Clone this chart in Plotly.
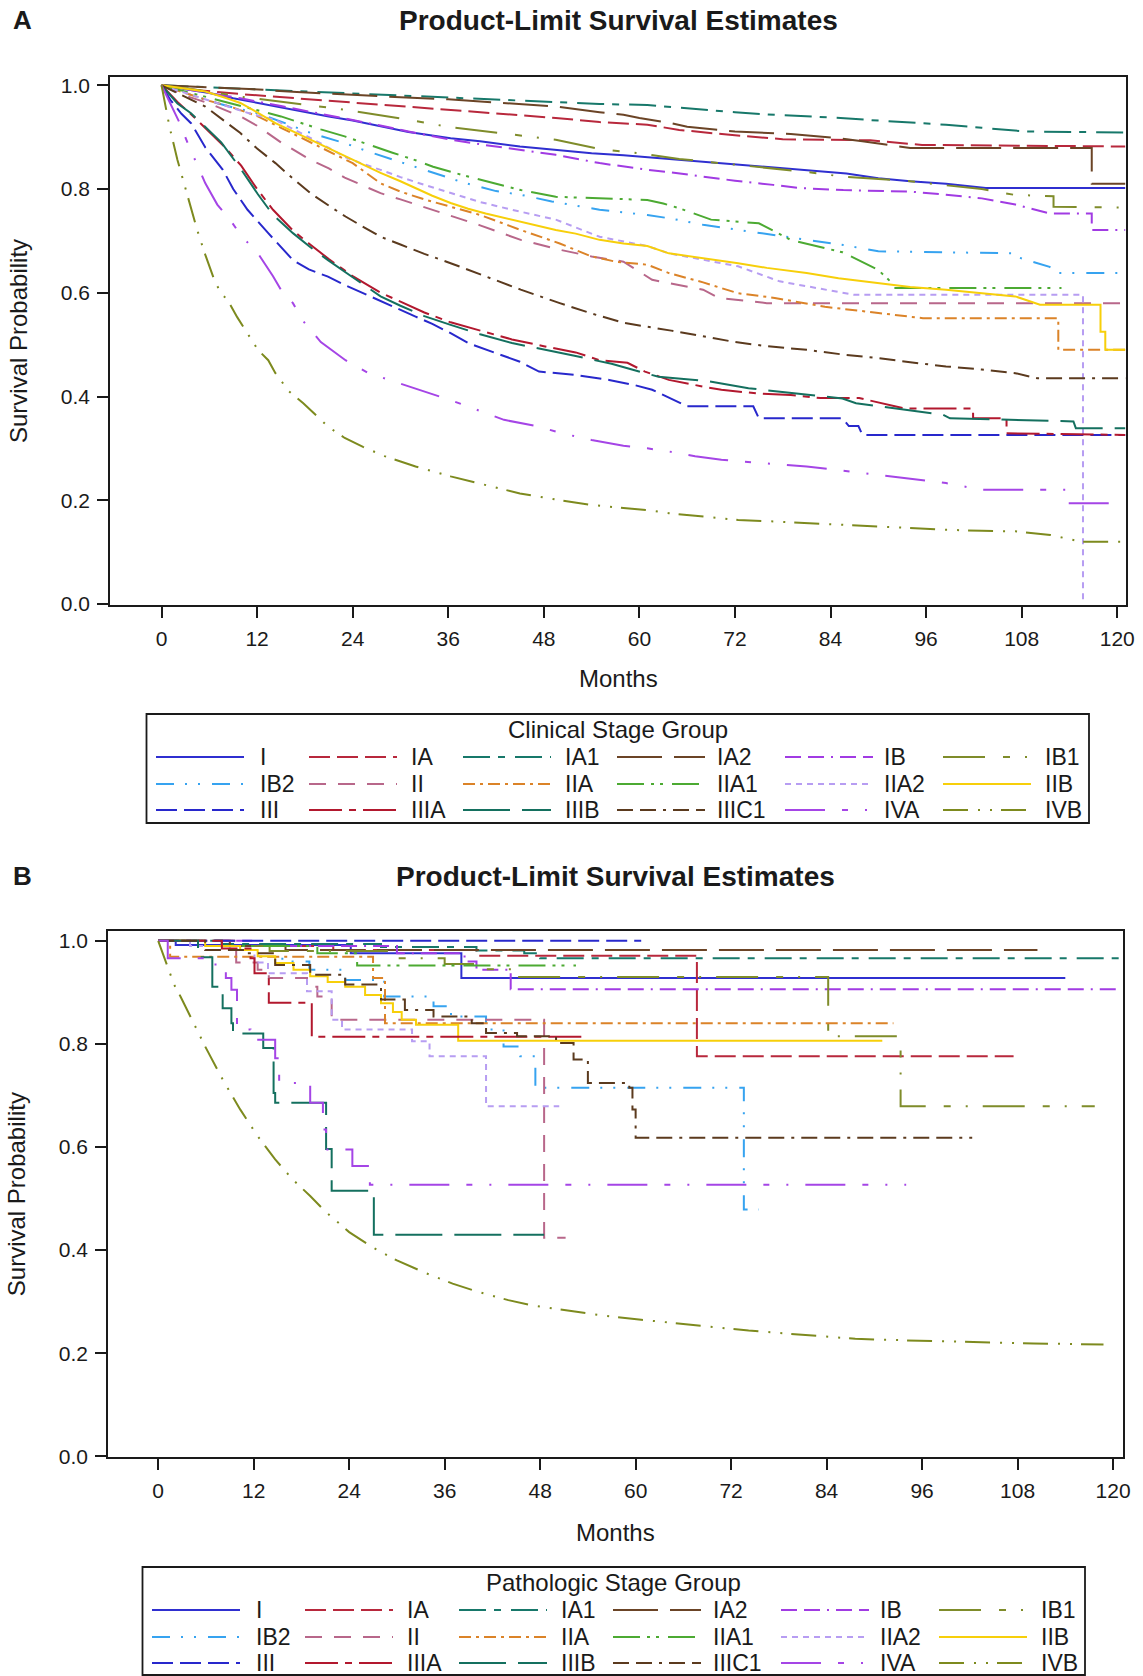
import plotly.graph_objects as go

FIG_W, FIG_H = 1143, 1676
FONT = "Liberation Sans, Arial, sans-serif"
INK = "#1a1a1a"

# ---- stage groups, line colours and dash patterns (legend order, row-major) ----
STAGES = ["I", "IA", "IA1", "IA2", "IB", "IB1",
          "IB2", "II", "IIA", "IIA1", "IIA2", "IIB",
          "III", "IIIA", "IIIB", "IIIC1", "IVA", "IVB"]

STAGE_COLORS = ["#2F2FD0", "#B8283C", "#17786A", "#6B4426", "#A13BE3", "#7F8C2A",
                "#36A3F0", "#B8678A", "#DB8328", "#4CAA32", "#B79DF2", "#F7CF0A",
                "#2828CC", "#B2182E", "#14705F", "#5B3A1E", "#A545E6", "#7D8A1E"]

STAGE_DASHES = ["solid", "21px,7px", "27px,8px,7px,10px", "45px,12px",
                "16px,7px,16px,7px,2px,7px", "42px,18px,7px,15px,2px,15px",
                "18px,11px,2px,11px,2px,12px", "17px,12px", "12px,5px,3px,5px",
                "27px,7px,3px,6px,3px,9px", "6px,5px", "solid",
                "21px,7px", "33px,7px,7px,7px", "47px,12px",
                "16px,7px,16px,7px,3px,7px", "40px,17px,6px,17px,2px,17px",
                "25px,10px,2px,10px,2px,9px"]

MONTH_TICKS = list(range(0, 121, 12))
SURV_TICKS = [0.0, 0.2, 0.4, 0.6, 0.8, 1.0]

# ---- A: clinical stage group, (month, survival probability) ----
A_I = [(0, 1.0), (3, 0.993), (6, 0.985), (9, 0.975), (12, 0.966), (14.3, 0.959), (18, 0.948),
       (21, 0.94), (24, 0.932), (27.5, 0.921), (31, 0.91), (36.3, 0.898), (40, 0.892), (45, 0.882),
       (50, 0.875), (54, 0.869), (58, 0.865), (62, 0.86), (68, 0.853), (74, 0.845), (81, 0.837),
       (86, 0.83), (90, 0.821), (94, 0.815), (98.5, 0.81), (103.5, 0.802), (121, 0.802)]
A_IA = [(0, 1.0), (5, 0.99), (10, 0.983), (16, 0.976), (23, 0.969), (30, 0.961), (36, 0.953),
        (43, 0.945), (49.5, 0.937), (55, 0.929), (61, 0.924), (65, 0.914), (71, 0.905),
        (78, 0.896), (89, 0.894), (95.5, 0.885), (121, 0.882)]
A_IA1 = [(0, 1.0), (6, 0.996), (12, 0.992), (18, 0.988), (23, 0.985), (30, 0.98), (36, 0.976),
         (42, 0.972), (48, 0.968), (55, 0.964), (61, 0.962), (66, 0.955), (72, 0.948),
         (77, 0.943), (84, 0.938), (90, 0.932), (94, 0.928), (98.5, 0.924), (103, 0.918),
         (108.5, 0.911), (121, 0.909)]
A_IA2 = [(0, 1.0), (7, 0.995), (11, 0.993), (17, 0.987), (23, 0.982), (30, 0.977), (36, 0.973),
         (43, 0.966), (49.5, 0.959), (55, 0.948), (58, 0.943), (60, 0.937), (64, 0.927),
         (66, 0.92), (70, 0.914), (72, 0.911), (79, 0.906), (85, 0.898), (88, 0.892),
         (94, 0.879), (116.8, 0.879), (116.8, 0.81), (121, 0.81)]
A_IB = [(0, 1.0), (4, 0.99), (9.9, 0.975), (15, 0.96), (19, 0.948), (23.1, 0.937), (27, 0.924),
        (31, 0.911), (36.3, 0.895), (41, 0.884), (45, 0.875), (49.5, 0.866), (55, 0.85),
        (61, 0.837), (64, 0.832), (68, 0.824), (72, 0.816), (76.8, 0.808), (80, 0.802),
        (85.6, 0.798), (94, 0.795), (98.5, 0.789), (103, 0.782), (107.2, 0.77), (111.5, 0.753),
        (116.8, 0.753), (116.8, 0.721), (121, 0.721)]
A_IB1 = [(0, 1.0), (5, 0.99), (10, 0.978), (16, 0.966), (23, 0.953), (30, 0.936), (36, 0.92),
         (43, 0.907), (49.5, 0.895), (55, 0.877), (60, 0.869), (65, 0.858), (71, 0.849),
         (77, 0.84), (81, 0.833), (85.5, 0.824), (90, 0.82), (94, 0.815), (98, 0.808),
         (103, 0.8), (107, 0.789), (112, 0.786), (112, 0.766), (121, 0.764)]
A_IB2 = [(0, 1.0), (3, 0.985), (6, 0.97), (9, 0.957), (12.1, 0.946), (15, 0.93), (18, 0.912),
         (20, 0.902), (23.1, 0.888), (26, 0.872), (29, 0.857), (32, 0.842), (34.1, 0.831),
         (38, 0.812), (42, 0.796), (45.1, 0.789), (49, 0.776), (55, 0.76), (61, 0.75),
         (64, 0.743), (68, 0.731), (72, 0.722), (76.8, 0.712), (81, 0.702), (85.6, 0.692),
         (90, 0.68), (107, 0.676), (107.2, 0.67), (111.5, 0.65), (112.4, 0.638), (121, 0.638)]
A_II = [(0, 1.0), (3, 0.98), (6, 0.965), (9.9, 0.94), (12, 0.922), (15, 0.89), (18.7, 0.856),
        (21, 0.84), (23, 0.822), (27.5, 0.792), (30, 0.78), (33, 0.765), (36.3, 0.747),
        (40, 0.73), (45.1, 0.702), (50, 0.683), (54, 0.67), (58, 0.66), (61.6, 0.625),
        (68, 0.606), (70, 0.59), (76, 0.58), (121, 0.58)]
A_IIA = [(0, 1.0), (3, 0.985), (6, 0.97), (9, 0.957), (12.1, 0.94), (15, 0.918), (18, 0.895),
         (21, 0.872), (24, 0.85), (27.5, 0.811), (30, 0.795), (33, 0.78), (36.3, 0.766),
         (40, 0.75), (45.1, 0.721), (50, 0.695), (54, 0.67), (57, 0.66), (61, 0.654),
         (63.7, 0.638), (68, 0.62), (72.4, 0.599), (77, 0.59), (83.3, 0.573), (90, 0.561),
         (95.6, 0.551), (112.6, 0.551), (112.6, 0.49), (121, 0.49)]
A_IIA1 = [(0, 1.0), (3, 0.988), (6, 0.977), (9, 0.965), (12.1, 0.953), (15, 0.94), (18, 0.925),
          (20, 0.915), (23.1, 0.901), (26, 0.885), (29, 0.87), (32, 0.855), (34.1, 0.843),
          (38, 0.826), (42, 0.81), (45.1, 0.798), (49.5, 0.785), (55, 0.782), (61, 0.779),
          (63, 0.772), (65, 0.763), (69, 0.741), (75, 0.734), (79, 0.702), (85.5, 0.678),
          (90, 0.644), (91.5, 0.622), (92, 0.609), (113, 0.609)]
A_IIA2 = [(0, 1.0), (3, 0.985), (6, 0.97), (9, 0.956), (11, 0.946), (14.3, 0.933), (17, 0.912),
          (20, 0.888), (23, 0.862), (25, 0.85), (27.5, 0.837), (30, 0.823), (33, 0.808),
          (36.3, 0.792), (40, 0.775), (44, 0.76), (49.5, 0.741), (55, 0.708), (61, 0.69),
          (63.7, 0.676), (68, 0.664), (72.4, 0.651), (77.6, 0.622), (87, 0.596),
          (115.7, 0.596), (115.7, 0.0)]
A_IIB = [(0, 1.0), (2, 0.996), (4, 0.992), (5.5, 0.988), (8, 0.976), (9.9, 0.966), (12, 0.948),
         (14.3, 0.927), (16.5, 0.911), (18.7, 0.895), (21, 0.878), (23.1, 0.862), (25, 0.848),
         (27.5, 0.831), (30, 0.815), (31.9, 0.802), (34, 0.787), (36.3, 0.773), (38.5, 0.762),
         (40.7, 0.753), (44, 0.741), (47, 0.73), (49.5, 0.721), (52, 0.714), (55, 0.702),
         (58, 0.695), (61, 0.69), (63.7, 0.676), (68, 0.667), (72.4, 0.657), (76, 0.648),
         (81, 0.638), (85, 0.628), (90, 0.618), (94, 0.611), (98.5, 0.606), (103, 0.6),
         (107.2, 0.593), (110.3, 0.577), (117.9, 0.577), (117.9, 0.525), (118.5, 0.525),
         (118.5, 0.49), (121, 0.49)]
A_III = [(0, 1.0), (1.1, 0.972), (2.5, 0.945), (3.7, 0.927), (5.5, 0.88), (7.7, 0.837),
         (9, 0.8), (10.8, 0.76), (13.4, 0.715), (16.5, 0.663), (18.5, 0.645), (20.9, 0.631),
         (23, 0.615), (25.3, 0.599), (28, 0.58), (31.9, 0.554), (34, 0.54), (36.3, 0.522),
         (38.5, 0.503), (42, 0.483), (45, 0.467), (47.4, 0.448), (51.8, 0.442), (56.2, 0.432),
         (59.4, 0.422), (61.6, 0.413), (64.3, 0.393), (66, 0.381), (74.3, 0.381), (75, 0.358),
         (85.5, 0.358), (86.3, 0.343), (87.5, 0.343), (88, 0.326), (121, 0.326)]
A_IIIA = [(0, 1.0), (2, 0.968), (4, 0.94), (6, 0.91), (8, 0.88), (10, 0.845), (12, 0.8),
          (14, 0.76), (16.5, 0.72), (18.5, 0.695), (21, 0.665), (24, 0.632), (27.5, 0.6),
          (30, 0.583), (33, 0.562), (36.3, 0.543), (40, 0.527), (44, 0.51), (48, 0.497),
          (52, 0.485), (55, 0.47), (58.5, 0.465), (60.7, 0.448), (63.7, 0.432), (68, 0.419),
          (70.3, 0.413), (74.7, 0.406), (79, 0.403), (82.7, 0.397), (87.6, 0.397),
          (93.3, 0.377), (101.9, 0.377), (101.9, 0.358), (106.1, 0.358), (106.1, 0.329),
          (121, 0.326)]
A_IIIB = [(0, 1.0), (2, 0.965), (3.7, 0.946), (5.5, 0.92), (7.5, 0.89), (9.9, 0.84),
          (12.1, 0.79), (14, 0.75), (16.5, 0.715), (18.5, 0.69), (20.9, 0.663), (24, 0.63),
          (27.5, 0.593), (30, 0.575), (33, 0.555), (36.3, 0.538), (40, 0.52), (44, 0.503),
          (47.4, 0.493), (52, 0.478), (56.5, 0.463), (60.7, 0.445), (62.4, 0.438), (67, 0.432),
          (68.8, 0.429), (73.7, 0.416), (79.4, 0.406), (85.5, 0.396), (87.2, 0.387), (92, 0.377),
          (98.1, 0.365), (99, 0.358), (106.6, 0.355), (114.5, 0.352), (114.8, 0.339),
          (121, 0.339)]
A_IIIC1 = [(0, 1.0), (2, 0.985), (4, 0.97), (5.5, 0.959), (8, 0.93), (9.9, 0.908), (12, 0.878),
           (14.3, 0.85), (16.5, 0.82), (18.7, 0.792), (21, 0.768), (23.1, 0.747), (25, 0.73),
           (27.5, 0.708), (30, 0.693), (33, 0.675), (36.3, 0.657), (40, 0.635), (45.1, 0.606),
           (50, 0.58), (54, 0.56), (58, 0.542), (61, 0.535), (64, 0.527), (68, 0.516),
           (72, 0.505), (76, 0.497), (81, 0.49), (86, 0.48), (90, 0.474), (94, 0.466),
           (98.5, 0.458), (103, 0.452), (107.2, 0.445), (110, 0.435), (121, 0.435)]
A_IVA = [(0, 1.0), (1.1, 0.966), (2.2, 0.93), (3.3, 0.888), (4.4, 0.85), (5.5, 0.811), (7, 0.77),
         (8.6, 0.741), (10, 0.71), (12.1, 0.676), (14, 0.632), (15.2, 0.6), (16.5, 0.58),
         (17.8, 0.545), (20, 0.505), (23.1, 0.47), (26, 0.445), (29.7, 0.426), (33, 0.41),
         (36.3, 0.393), (40, 0.372), (43, 0.355), (47.4, 0.342), (50, 0.33), (54, 0.316),
         (58, 0.305), (61, 0.3), (63.7, 0.294), (67, 0.285), (70.3, 0.278), (75, 0.272),
         (81, 0.265), (85, 0.258), (90, 0.249), (94, 0.242), (98.5, 0.233), (103, 0.22),
         (113.5, 0.22), (113.5, 0.194), (121, 0.194)]
A_IVB = [(0, 1.0), (0.5, 0.96), (1, 0.92), (2, 0.856), (3, 0.8), (3.7, 0.76), (4.5, 0.72),
         (5.5, 0.673), (6.5, 0.63), (7.4, 0.6), (8.3, 0.586), (9.5, 0.553), (11.2, 0.51),
         (12.1, 0.49), (13.4, 0.47), (14.3, 0.445), (16, 0.41), (17.8, 0.387), (20.9, 0.342),
         (23, 0.32), (25.3, 0.303), (28, 0.285), (31.9, 0.265), (36.3, 0.246), (40, 0.232),
         (45, 0.213), (50, 0.2), (54, 0.191), (58, 0.185), (61, 0.181), (63.7, 0.175),
         (68, 0.168), (72.4, 0.162), (77, 0.159), (81, 0.156), (86, 0.152), (90, 0.149),
         (94, 0.146), (98.5, 0.143), (103, 0.141), (107.2, 0.14), (111.6, 0.133),
         (115.5, 0.12), (121, 0.12)]

# ---- B: pathologic stage group, (month, survival probability) ----
B_I = [(0, 1.0), (2.2, 0.992), (24.2, 0.976), (38.1, 0.928), (114, 0.928)]
B_IA = [(0, 1.0), (10, 0.99), (22, 0.982), (40, 0.971), (67.7, 0.776), (107.5, 0.776)]
B_IA1 = [(0, 1.0), (8, 0.994), (28, 0.988), (40, 0.981), (46, 0.976), (48, 0.966), (120.9, 0.966)]
B_IA2 = [(0, 1.0), (9, 0.99), (16, 0.982), (110.5, 0.982)]
B_IB = [(0, 1.0), (12, 0.99), (30, 0.976), (38.5, 0.96), (40, 0.944), (44.3, 0.906), (120.9, 0.906)]
B_IB1 = [(0, 1.0), (6, 0.99), (14, 0.98), (29, 0.966), (36, 0.955), (41, 0.945), (45, 0.93),
         (84.2, 0.815), (93.3, 0.679), (117.7, 0.679)]
B_IB2 = [(0, 1.0), (8, 0.99), (15.6, 0.96), (19, 0.944), (23.5, 0.924), (28.4, 0.892),
         (34.6, 0.873), (36.8, 0.853), (41.2, 0.828), (43.4, 0.795), (45.5, 0.776),
         (47.4, 0.715), (73.6, 0.479), (75.5, 0.479)]
B_II = [(0, 1.0), (9.8, 0.958), (12.5, 0.944), (13.9, 0.928), (18.7, 0.911), (20, 0.892),
        (21.8, 0.847), (48.5, 0.424), (51.2, 0.424)]
B_IIA = [(0, 1.0), (1.5, 0.969), (27, 0.928), (28.5, 0.84), (92.4, 0.84)]
B_IIA1 = [(0, 1.0), (8, 0.99), (20, 0.976), (25, 0.952), (52.5, 0.952)]
B_IIA2 = [(0, 1.0), (4, 0.99), (9, 0.982), (12.1, 0.958), (13.8, 0.937), (18.7, 0.902),
          (21.8, 0.847), (23.1, 0.828), (31.9, 0.805), (34.1, 0.776), (41.2, 0.679), (50.4, 0.679)]
B_IIB = [(0, 1.0), (5.9, 0.99), (10.3, 0.982), (12.5, 0.97), (14.7, 0.957), (17, 0.944),
         (19.1, 0.931), (21.3, 0.92), (23.5, 0.911), (26, 0.895), (28, 0.879), (29.5, 0.862),
         (30.6, 0.847), (32.4, 0.837), (37.7, 0.806), (91, 0.806)]
B_III = [(0, 1.0), (60.7, 1.0)]
B_IIIA = [(0, 1.0), (8, 0.985), (11.6, 0.966), (12.1, 0.937), (13.9, 0.88), (19.3, 0.814), (53.7, 0.814)]
B_IIIB = [(0, 1.0), (5, 0.968), (6.8, 0.911), (8.1, 0.869), (9.2, 0.84), (9.4, 0.82), (13.2, 0.792),
          (14.5, 0.705), (14.7, 0.686), (21.1, 0.596), (21.8, 0.515), (27.1, 0.43), (48.5, 0.43)]
B_IIIC1 = [(0, 1.0), (5.9, 0.982), (11.2, 0.976), (14.7, 0.953), (19.1, 0.934), (23.5, 0.915),
           (28, 0.886), (31, 0.866), (34.6, 0.853), (39.4, 0.84), (41.2, 0.821), (45.1, 0.815),
           (50, 0.802), (52.2, 0.77), (54, 0.724), (59.2, 0.715), (59.6, 0.673), (60, 0.618),
           (102.3, 0.618)]
B_IVA = [(0, 1.0), (1.2, 0.966), (7.2, 0.947), (8.5, 0.928), (9.2, 0.905), (9.9, 0.828),
         (11.6, 0.808), (14.7, 0.772), (15.2, 0.724), (19.1, 0.686), (20.7, 0.634), (21.1, 0.595),
         (24.4, 0.563), (26.6, 0.527), (94, 0.527)]
B_IVB = [(0, 1.0), (1, 0.957), (2, 0.915), (2.8, 0.892), (4.2, 0.847), (5.9, 0.795), (8.1, 0.731),
         (10.3, 0.673), (12.5, 0.621), (14.7, 0.576), (16.9, 0.537), (19.1, 0.505), (21, 0.475),
         (24, 0.435), (27, 0.405), (30, 0.38), (33.7, 0.355), (37, 0.335), (40, 0.32), (44, 0.303),
         (47.3, 0.292), (52, 0.282), (56, 0.273), (60.7, 0.265), (66, 0.257), (70, 0.25),
         (74.2, 0.244), (80, 0.237), (87.6, 0.228), (94, 0.225), (101, 0.222), (110, 0.219),
         (118.8, 0.217)]

CLINICAL = [A_I, A_IA, A_IA1, A_IA2, A_IB, A_IB1, A_IB2, A_II, A_IIA, A_IIA1, A_IIA2, A_IIB,
            A_III, A_IIIA, A_IIIB, A_IIIC1, A_IVA, A_IVB]
PATHOLOGIC = [B_I, B_IA, B_IA1, B_IA2, B_IB, B_IB1, B_IB2, B_II, B_IIA, B_IIA1, B_IIA2, B_IIB,
              B_III, B_IIIA, B_IIIB, B_IIIC1, B_IVA, B_IVB]


def px(x):
    return x / FIG_W


def py(y):
    return 1 - y / FIG_H


# panel frames in page pixels (left, right, top, bottom) and axis ranges.
# Large-sample curves are traced point to point, sparse ones as steps.
PANELS = [
    dict(letter="A", legend="Clinical Stage Group", curves=CLINICAL,
         box=(110, 1126, 77, 605), xr=[-6.47, 121.1], yr=[-0.002, 1.016],
         title_y=20, months_y=678, ytitle_x=19, legend_dx=0, legend_dy=0,
         smooth=set(STAGES)),
    dict(letter="B", legend="Pathologic Stage Group", curves=PATHOLOGIC,
         box=(108, 1122.6, 931, 1457.4), xr=[-6.31, 121.2], yr=[-0.002, 1.019],
         title_y=876, months_y=1532, ytitle_x=16, legend_dx=-4, legend_dy=853,
         smooth={"IVB"}),
]

# legend grid (page pixels, relative to the first legend)
LEG_BOX = (146.5, 1089, 714, 823)
LEG_TITLE_Y = 729
LEG_ROWS_Y = [757, 784, 810]
LEG_LINE_X = [156, 309, 463, 617, 785, 943]
LEG_TEXT_X = [258, 409, 563, 715, 882, 1043]
LEG_LINE_LEN = 88

fig = go.Figure()
shapes, annotations = [], []

for k, panel in enumerate(PANELS):
    sfx = "" if k == 0 else str(k + 1)
    xa, ya = "x" + sfx, "y" + sfx
    for stage, color, dash, curve in zip(STAGES, STAGE_COLORS, STAGE_DASHES, panel["curves"]):
        shape = "linear" if stage in panel["smooth"] else "hv"
        fig.add_trace(go.Scatter(
            x=[p[0] for p in curve], y=[p[1] for p in curve],
            mode="lines", line=dict(color=color, width=2, dash=dash, shape=shape),
            name=stage, xaxis=xa, yaxis=ya, showlegend=False,
            hovertemplate=stage + "<br>%{x} months: %{y:.3f}<extra></extra>"))

    l, r, t, b = panel["box"]
    axis_common = dict(showline=True, mirror=True, linecolor=INK, linewidth=1.6,
                       showgrid=False, zeroline=False, ticks="outside", ticklen=11,
                       tickwidth=1.6, tickcolor=INK, automargin=False,
                       tickfont=dict(family=FONT, size=21, color=INK))
    fig.layout["xaxis" + sfx] = dict(domain=[px(l), px(r)], range=panel["xr"], anchor=ya,
                                     tickvals=MONTH_TICKS, ticklabelstandoff=3, **axis_common)
    fig.layout["yaxis" + sfx] = dict(domain=[py(b), py(t)], range=panel["yr"], anchor=xa,
                                     tickvals=SURV_TICKS, tickformat=".1f",
                                     ticklabelstandoff=3, **axis_common)

    cx = (l + r) / 2
    annotations += [
        dict(text="<b>" + panel["letter"] + "</b>", x=px(11), y=py(panel["title_y"]),
             xanchor="left", yanchor="middle", font=dict(size=26)),
        dict(text="<b>Product-Limit Survival Estimates</b>", x=px(cx), y=py(panel["title_y"]),
             xanchor="center", yanchor="middle", font=dict(size=28)),
        dict(text="Months", x=px(cx), y=py(panel["months_y"]), xanchor="center",
             yanchor="middle", font=dict(size=24)),
        dict(text="Survival Probability", x=px(panel["ytitle_x"]), y=py((t + b) / 2),
             textangle=-90, xanchor="center", yanchor="middle", font=dict(size=24)),
    ]

    # stage legend beneath the panel
    dx, dy = panel["legend_dx"], panel["legend_dy"]
    bl, br, bt, bb = LEG_BOX
    shapes.append(dict(type="rect", xref="paper", yref="paper",
                       x0=px(bl + dx), x1=px(br + dx), y0=py(min(bb + dy, FIG_H - 1)), y1=py(bt + dy),
                       line=dict(color=INK, width=1.8), fillcolor="rgba(0,0,0,0)"))
    annotations.append(dict(text=panel["legend"], x=px((bl + br) / 2 + dx), y=py(LEG_TITLE_Y + dy),
                            xanchor="center", yanchor="middle", font=dict(size=24)))
    for i, (stage, color, dash) in enumerate(zip(STAGES, STAGE_COLORS, STAGE_DASHES)):
        row, col = divmod(i, 6)
        yy = py(LEG_ROWS_Y[row] + dy)
        x0 = LEG_LINE_X[col] + dx
        shapes.append(dict(type="line", xref="paper", yref="paper",
                           x0=px(x0), x1=px(x0 + LEG_LINE_LEN), y0=yy, y1=yy,
                           line=dict(color=color, width=2, dash=dash)))
        annotations.append(dict(text=stage, x=px(LEG_TEXT_X[col] + dx), y=yy,
                                xanchor="left", yanchor="middle", font=dict(size=23)))

for a in annotations:
    a.update(xref="paper", yref="paper", showarrow=False)
    a["font"].update(family=FONT, color=INK)

fig.update_layout(
    width=FIG_W, height=FIG_H, margin=dict(l=0, r=0, t=0, b=0),
    paper_bgcolor="white", plot_bgcolor="white", showlegend=False,
    font=dict(family=FONT, color=INK),
    shapes=shapes, annotations=annotations,
)

fig.write_html("out.html")
